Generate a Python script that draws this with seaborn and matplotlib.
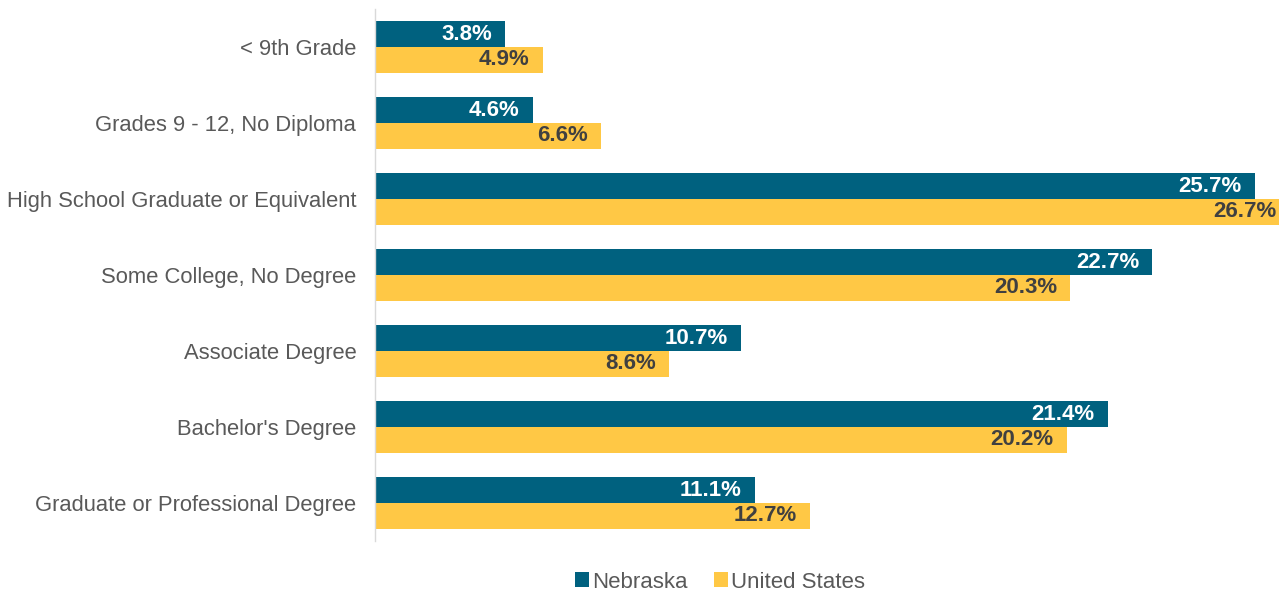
import matplotlib
matplotlib.use("Agg")
import matplotlib.pyplot as plt
import seaborn as sns
import pandas as pd
from matplotlib.patches import Patch

categories = ["< 9th Grade", "Grades 9 - 12, No Diploma", "High School Graduate or Equivalent",
              "Some College, No Degree", "Associate Degree", "Bachelor's Degree",
              "Graduate or Professional Degree"]
nebraska = [3.8, 4.6, 25.7, 22.7, 10.7, 21.4, 11.1]
united_states = [4.9, 6.6, 26.7, 20.3, 8.6, 20.2, 12.7]
series = ["Nebraska", "United States"]
colors = ["#00617F", "#FFC845"]
label_colors = ["white", "#404040"]

df = pd.DataFrame({
    "Category": categories * 2,
    "Value": nebraska + united_states,
    "Series": [series[0]] * len(categories) + [series[1]] * len(categories),
})

sns.set_style("white")
plt.rcParams["font.family"] = ["Liberation Sans", "DejaVu Sans"]

fig = plt.figure(figsize=(12.79, 5.92), dpi=100)
ax = fig.add_axes([375/1279, 1 - 541/592, 1 - 375/1279, (541 - 9)/592])

sns.barplot(data=df, y="Category", x="Value", hue="Series", order=categories,
            hue_order=series, palette=colors, orient="h", width=0.684,
            saturation=1, ax=ax, legend=False, linewidth=0)

for cont, tc in zip(ax.containers, label_colors):
    for bar in cont:
        w = bar.get_width()
        yc = bar.get_y() + bar.get_height() / 2
        ax.annotate(f"{w:.1f}%", xy=(w, yc), xytext=(-9.5, 0), textcoords="offset points",
                    ha="right", va="center", color=tc, fontsize=16, fontweight="bold",
                    annotation_clip=False)

ax.set_xlim(0, 26.4)
ax.set_ylim(6.5, -0.5)
ax.set_xlabel("")
ax.set_ylabel("")
ax.set_xticks([])
ax.tick_params(axis="y", length=0, pad=13.5, labelsize=15.8, labelcolor="#595959")
for s in ["top", "right", "bottom"]:
    ax.spines[s].set_visible(False)
ax.spines["left"].set_color("#D9D9D9")
ax.spines["left"].set_linewidth(1)

handles = [Patch(facecolor=c, edgecolor="none") for c in colors]
fig.legend(handles, series, loc="center", bbox_to_anchor=(720/1279, 1 - 582/592),
           ncol=2, frameon=False, fontsize=16, labelcolor="#595959",
           handlelength=0.62, handleheight=0.62, handletextpad=0.15, columnspacing=1.2)

fig.savefig("out.png", dpi=100)
